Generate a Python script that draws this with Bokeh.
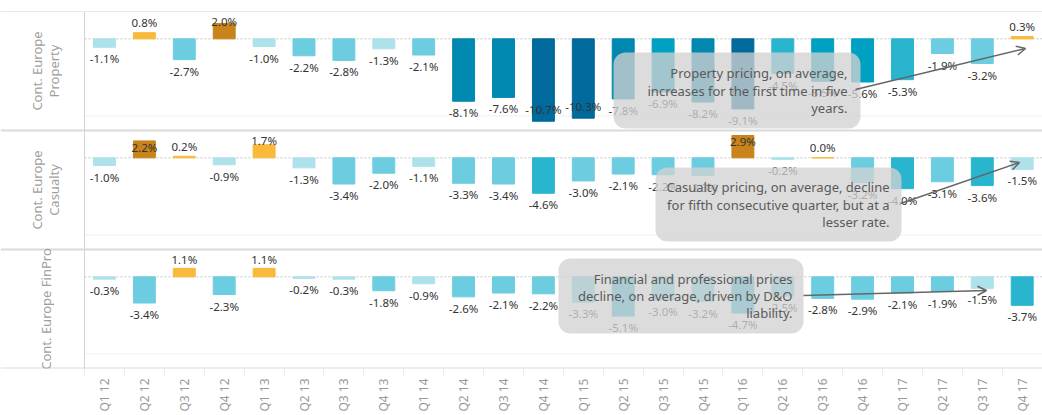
import numpy as np
from math import pi
from bokeh.plotting import figure
from bokeh.models import (Range1d, FixedTicker, Span, Label, BoxAnnotation,
                          Arrow, OpenHead, ColumnDataSource)
from bokeh.core.properties import value
from bokeh.embed import file_html
from bokeh.resources import INLINE

# ---------------- data ----------------
quarters = ["Q1 12", "Q2 12", "Q3 12", "Q4 12", "Q1 13", "Q2 13", "Q3 13", "Q4 13",
            "Q1 14", "Q2 14", "Q3 14", "Q4 14", "Q1 15", "Q2 15", "Q3 15", "Q4 15",
            "Q1 16", "Q2 16", "Q3 16", "Q4 16", "Q1 17", "Q2 17", "Q3 17", "Q4 17"]

property_pct = [-1.1, 0.8, -2.7, 2.0, -1.0, -2.2, -2.8, -1.3, -2.1, -8.1, -7.6, -10.7,
                -10.3, -7.8, -6.9, -8.2, -9.1, -4.5, -5.5, -5.6, -5.3, -1.9, -3.2, 0.3]
casualty_pct = [-1.0, 2.2, 0.2, -0.9, 1.7, -1.3, -3.4, -2.0, -1.1, -3.3, -3.4, -4.6,
                -3.0, -2.1, -2.2, -2.3, 2.9, -0.2, 0.0, -3.2, -4.0, -3.1, -3.6, -1.5]
finpro_pct = [-0.3, -3.4, 1.1, -2.3, 1.1, -0.2, -0.3, -1.8, -0.9, -2.6, -2.1, -2.2,
              -3.3, -5.1, -3.0, -3.2, -4.7, -2.5, -2.8, -2.9, -2.1, -1.9, -1.5, -3.7]

row_titles = [["Cont. Europe", "Property"], ["Cont. Europe", "Casualty"], ["Cont. Europe FinPro"]]
row_values = [property_pct, casualty_pct, finpro_pct]

notes = [
    ["Property pricing, on average,", "increases for the first time in five", "years."],
    ["Casualty pricing, on average, decline", "for fifth consecutive quarter, but at a", "lesser rate."],
    ["Financial and professional prices", "decline, on average, driven by D&O", "liability."],
]

# ---------------- layout constants ----------------
W, H = 1042, 415
TOP = 11           # frame top (page px)
ROW_PX = 119       # pixel height of a row
PXU = 39.9         # px per quarter
FIRST_PX = 104     # centre of first quarter
X_START = -FIRST_PX / PXU
X_END = X_START + W / PXU
HDR_X = X_START + 84 / PXU   # header column separator
Y_TOP, Y_BOT = 3.55, -11.9
SPAN = Y_TOP - Y_BOT


def px_x(px):   # page px -> data x
    return X_START + px / PXU


def px_y(py):   # page px -> default row-unit y
    return 3 - (py - TOP) / ROW_PX


def bar_color(v):
    if v >= 2:
        return "#C8841A"
    if v >= 0:
        return "#F9B93A"
    if v > -1.6:
        return "#ADE2EA"
    if v > -3.5:
        return "#6CCDE0"
    if v > -5.4:
        return "#2AB5CF"
    if v > -7.5:
        return "#00A0C2"
    if v > -9.0:
        return "#0088B0"
    return "#006A9C"


def label_y(v):
    if v >= 0:
        y = v + 1.3
        if y > 2.4:
            y = 2.2 if v < 2.1 else v - 0.8
        return y
    y = v - 1.5
    if y - 0.8 < Y_BOT:
        y = v + 1.5
    return y


p = figure(width=W, height=H, output_backend="svg", toolbar_location=None,
           x_range=Range1d(X_START, X_END), y_range=Range1d(0, 3),
           min_border_left=0, min_border_right=0, min_border_top=TOP,
           min_border_bottom=H - TOP - 3 * ROW_PX)
p.outline_line_color = None
p.background_fill_color = "white"
p.border_fill_color = "white"
p.grid.visible = False
p.yaxis.visible = False

extra = {}
for k in range(3):
    extra[f"r{k}"] = Range1d(Y_BOT - (2 - k) * SPAN, Y_TOP + k * SPAN)
p.extra_y_ranges = extra

xs = list(range(len(quarters)))

# frame lines
p.add_layout(Span(location=3, dimension="width", line_color="#d4d4d4", line_width=1))
for loc in (2, 1, 0):
    p.add_layout(Span(location=loc, dimension="width", line_color="#dadada", line_width=2))
p.add_layout(Span(location=HDR_X, dimension="height", line_color="#d4d4d4", line_width=1))

for k in range(3):
    rn = f"r{k}"
    vals = row_values[k]
    # faint -10 gridline and dotted zero line
    p.segment(x0=HDR_X, x1=X_END, y0=-10, y1=-10, y_range_name=rn,
              line_color="#efefef", line_width=1)
    p.segment(x0=HDR_X, x1=X_END, y0=0, y1=0, y_range_name=rn,
              line_color="#c4c4c4", line_width=1, line_dash="2 2")
    src = ColumnDataSource(dict(
        x=xs, v=vals,
        color=[bar_color(v) for v in vals],
        ly=[label_y(v) for v in vals],
        txt=[f"{v:.1f}%" for v in vals],
    ))
    p.vbar(x="x", top="v", bottom=0, width=0.55, fill_color="color",
           line_color="color", line_width=1, source=src, y_range_name=rn)
    p.text(x="x", y="ly", text="txt", source=src, y_range_name=rn,
           text_align="center", text_baseline="middle",
           text_font=value("Noto Sans"), text_font_size="11.5px", text_color="#333333")

    # row header
    title = row_titles[k]
    yc = 2.5 - k
    if len(title) == 2:
        xs_t = [px_x(36), px_x(53)]
    else:
        xs_t = [px_x(45)]
    for t, xt in zip(title, xs_t):
        p.add_layout(Label(x=xt, y=yc, text=t, angle=pi / 2, text_align="center",
                           text_baseline="middle", text_font="Noto Sans",
                           text_font_size="13px", text_color="#a0a0a0"))

# ---------------- annotations ----------------
boxes = [(613, 860, 52, 128), (655, 901, 167, 241), (558, 803, 258, 333)]
text_right = [847, 889, 792]
line_ys = [[72, 90, 107], [186, 204, 221], [278, 295, 312]]
arrows = [((855, 89), (1025, 48)), ((900, 203), (1019, 162)), ((803, 295), (986, 290))]

for k in range(3):
    l, r, t, b = boxes[k]
    p.add_layout(BoxAnnotation(left=px_x(l), right=px_x(r), top=px_y(t), bottom=px_y(b),
                               fill_color="#D1D1D1", fill_alpha=0.77, line_color=None,
                               border_radius=12))
    for txt, ly in zip(notes[k], line_ys[k]):
        p.add_layout(Label(x=px_x(text_right[k]), y=px_y(ly), text=txt,
                           text_align="right", text_baseline="middle",
                           text_font="Noto Sans", text_font_size="13px",
                           text_color="#5a5a5a"))
    (x0, y0), (x1, y1) = arrows[k]
    p.add_layout(Arrow(end=OpenHead(size=9, line_color="#666666", line_width=1.5),
                       x_start=px_x(x0), y_start=px_y(y0), x_end=px_x(x1), y_end=px_y(y1),
                       line_color="#666666", line_width=1.5))

# ---------------- x axis ----------------
ax = p.xaxis[0]
ax.ticker = FixedTicker(ticks=xs, minor_ticks=[i + 0.5 for i in xs[:-1]] + [-0.5])
ax.major_label_overrides = {i: q for i, q in enumerate(quarters)}
ax.major_label_orientation = pi / 2
ax.major_label_text_font = "Noto Sans"
ax.major_label_text_font_size = "12px"
ax.major_label_text_color = "#9a9a9a"
ax.major_label_standoff = 2
ax.axis_line_color = None
ax.major_tick_line_color = None
ax.minor_tick_line_color = "#ececec"
ax.minor_tick_out = 8
ax.minor_tick_in = 0

open("out.html", "w").write(file_html(p, INLINE))
